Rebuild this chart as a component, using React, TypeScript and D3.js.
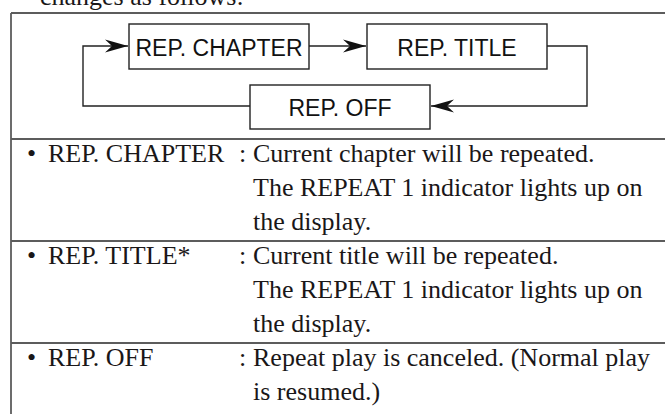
import React, { useEffect, useRef } from 'react'
import * as d3 from 'd3'

const WIDTH = 665
const HEIGHT = 414

// flow diagram steps (top box, top box, bottom box)
const steps = ['REP. CHAPTER', 'REP. TITLE', 'REP. OFF']

// table rows
const rowLabels = ['REP. CHAPTER', 'REP. TITLE*', 'REP. OFF']
const rowTexts = [
  ['Current chapter will be repeated.', 'The REPEAT 1 indicator lights up on', 'the display.'],
  ['Current title will be repeated.', 'The REPEAT 1 indicator lights up on', 'the display.'],
  ['Repeat play is canceled. (Normal play', 'is resumed.)'],
]

const intro = 'changes as follows:'

const SERIF = '"Liberation Serif", "Times New Roman", serif'
const SANS = '"Liberation Sans", Arial, sans-serif'
const INK = '#1a1718'
const RULE = '#5c5c5c'

export default function App() {
  const ref = useRef<SVGSVGElement>(null)

  const draw = () => {
    const svg = d3.select(ref.current)
    svg.selectAll('*').remove()

    svg.append('rect').attr('width', WIDTH).attr('height', HEIGHT).attr('fill', '#fff')

    // sentence above the table, cut by the top edge as in the scan
    svg.append('text')
      .attr('x', 40).attr('y', 5)
      .attr('font-family', SERIF).attr('font-size', 26).attr('fill', INK)
      .text(intro)

    // --- table frame ---
    const lineH = 34
    const rowTop = 139
    const rowStarts = [rowTop]
    rowTexts.forEach((r, i) => rowStarts.push(rowStarts[i] + r.length * lineH))

    const frame = svg.append('g').attr('stroke', RULE).attr('stroke-width', 1.8)
    frame.append('line').attr('x1', 11).attr('x2', 11).attr('y1', 13).attr('y2', HEIGHT + 10)
    // last row runs past the bottom edge, so no closing rule
    ;[13, ...rowStarts.slice(0, rowTexts.length)].forEach((y) => {
      frame.append('line').attr('x1', 11).attr('x2', WIDTH + 10).attr('y1', y).attr('y2', y)
    })

    // --- rows ---
    const rows = svg.append('g')
      .attr('font-family', SERIF).attr('font-size', 26).attr('fill', INK)
    rowTexts.forEach((lines, i) => {
      const y0 = rowStarts[i] + 23
      rows.append('text').attr('x', 27).attr('y', y0).text('\u2022')
      rows.append('text').attr('x', 48).attr('y', y0).text(rowLabels[i])
      rows.append('text').attr('x', 239).attr('y', y0).text(':')
      lines.forEach((t, j) => {
        rows.append('text').attr('x', 253).attr('y', y0 + j * lineH).text(t)
      })
    })

    // --- flow diagram ---
    const boxW = 180
    const boxes = [
      { x: 129, y: 24, h: 45 },
      { x: 367, y: 24, h: 45 },
      { x: 250, y: 85, h: 44 },
    ]
    const diag = svg.append('g')
    boxes.forEach((b, i) => {
      diag.append('rect')
        .attr('x', b.x).attr('y', b.y).attr('width', boxW).attr('height', b.h)
        .attr('fill', '#fff').attr('stroke', '#222').attr('stroke-width', 1.4)
      diag.append('text')
        .attr('x', b.x + boxW / 2).attr('y', b.y + b.h / 2 + 9)
        .attr('text-anchor', 'middle')
        .attr('font-family', SANS).attr('font-size', 23).attr('fill', '#111')
        .text(steps[i])
    })

    const topY = 46
    const botY = 106
    const line = d3.line()
    const connectors: [number, number][][] = [
      [[boxes[0].x + boxW, topY], [boxes[1].x - 1, topY]],
      [[boxes[1].x + boxW, topY], [587, topY], [587, botY], [boxes[2].x + boxW + 1, botY]],
      [[boxes[2].x, botY], [83, botY], [83, topY], [boxes[0].x - 1, topY]],
    ]
    const head = line([[0, 0], [-23, -6.5], [-16, 0], [-23, 6.5]]) + 'Z'
    connectors.forEach((pts) => {
      diag.append('path')
        .attr('d', line(pts))
        .attr('fill', 'none').attr('stroke', '#222').attr('stroke-width', 1.4)
      const [tx, ty] = pts[pts.length - 1]
      const [px] = pts[pts.length - 2]
      const dir = tx > px ? 1 : -1
      diag.append('path')
        .attr('d', head)
        .attr('transform', `translate(${tx},${ty}) scale(${dir},1)`)
        .attr('fill', '#111')
    })
  }

  useEffect(() => {
    draw()
  }, [])

  return (
    <svg
      ref={ref}
      width={WIDTH}
      height={HEIGHT}
      style={{ position: 'absolute', left: 0, top: 0 }}
    />
  )
}
